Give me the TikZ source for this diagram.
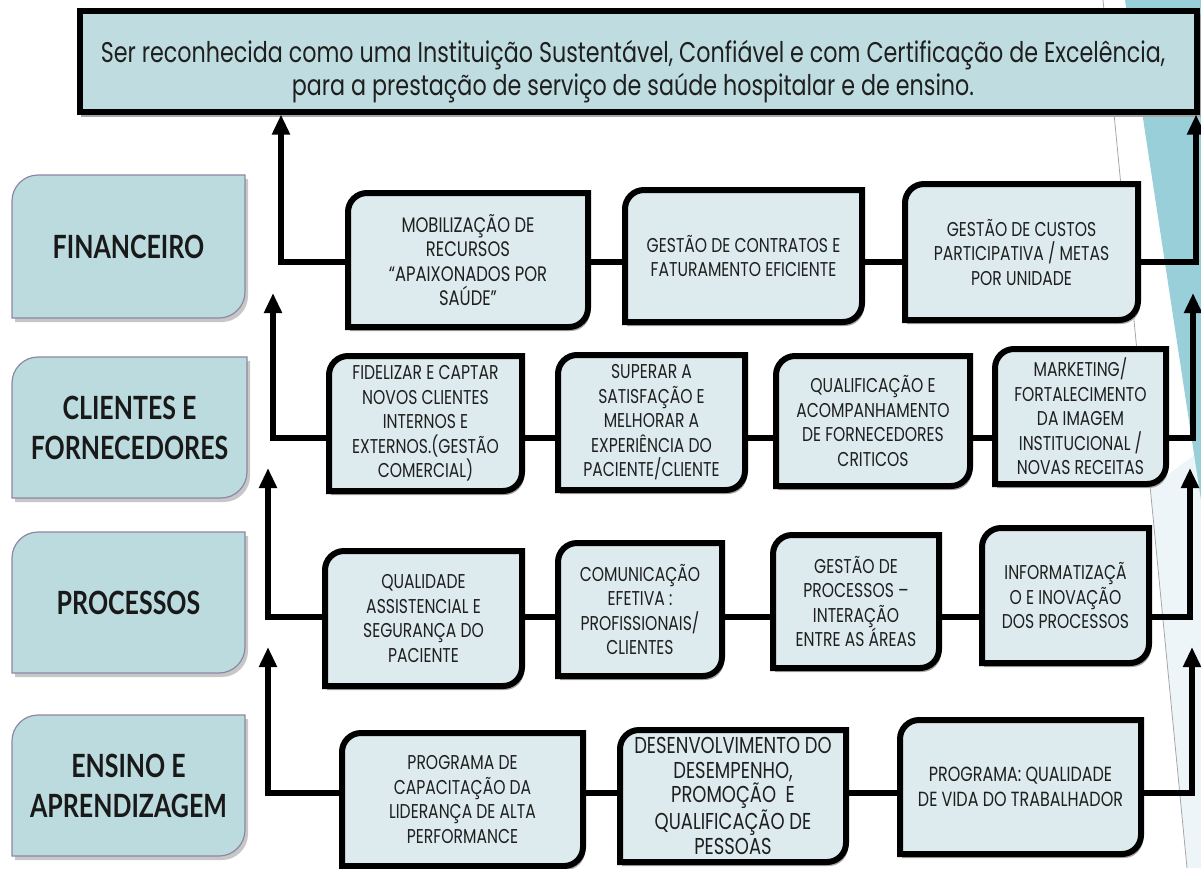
\documentclass[tikz,border=0pt]{standalone}
\usepackage{fontspec}
\usetikzlibrary{arrows.meta}
\newfontfamily\gfont[FakeStretch=0.78]{Poppins}
\newfontfamily\cfont[FakeStretch=0.78]{Lato}
\definecolor{topfill}{HTML}{BFDDE1}
\definecolor{catfill}{HTML}{BCDBDF}
\definecolor{catline}{HTML}{8C87A3}
\definecolor{objfill}{HTML}{DDEBEE}
\definecolor{decoteal}{HTML}{98CFD9}
\definecolor{decolight}{HTML}{EEF5F8}
\tikzset{
  objframe/.style={draw=black, line width=6pt, fill=objfill},
  objshadow/.style={fill=black!35},
  catframe/.style={draw=catline, line width=1.2pt, fill=catfill},
  catshadow/.style={fill=black!22},
  objtext/.style={font=\gfont\fontsize{20}{24.5}\selectfont, align=center, inner sep=0pt, text=black!88},
  cattext/.style={font=\cfont\bfseries\fontsize{32}{40}\selectfont, align=center, inner sep=0pt, text=black!90},
  toptext/.style={font=\gfont\fontsize{28.5}{33}\selectfont, align=center, inner sep=0pt, text=black!88},
  conn/.style={line width=6pt, draw=black},
  arr/.style={conn, -{Triangle[length=20pt,width=17pt]}},
}
\newcommand{\dframe}[6]{%
  \path[#1] (#2,#5) -- (#2,{#3+#6}) .. controls (#2,{#3+0.45*#6}) and ({#2+0.45*#6},#3) .. ({#2+#6},#3) -- (#4,#3) -- (#4,{#5-#6}) .. controls (#4,{#5-0.45*#6}) and ({#4-0.45*#6},#5) .. ({#4-#6},#5) -- cycle;}
\newcommand{\objbox}[7][]{%
  \dframe{objshadow,shift={(2,4)}}{#3}{#4}{#5}{#6}{19}%
  \dframe{objframe}{#3}{#4}{#5}{#6}{19}%
  \node[objtext,#1,minimum width={#5-#3},minimum height={#6-#4}] (#2) at ({(#3+#5)/2},{(#4+#6)/2}) {#7};}
\newcommand{\catbox}[6]{%
  \dframe{catshadow,shift={(3,4)}}{#2}{#3}{#4}{#5}{26}%
  \dframe{catframe}{#2}{#3}{#4}{#5}{26}%
  \node[cattext,minimum width={#4-#2},minimum height={#5-#3}] (#1) at ({(#2+#4)/2},{(#3+#5)/2}) {#6};}
\begin{document}
\begin{tikzpicture}[x=1pt,y=-1pt]
\useasboundingbox (0,0) rectangle (1201,868);
% slide decoration
\fill[decolight] (1150,488) -- (1201,450) -- (1201,868) -- (1187,868) -- cycle;
\fill[decoteal] (1125,0) -- (1201,0) -- (1201,500) -- cycle;
\draw[black!35, line width=0.8pt] (1103,0) -- (1187,868);
% top box
\fill[black!35] (81,14) rectangle (1201,117);
\node[draw=black, line width=6pt, fill=topfill, minimum width=1117pt, minimum height=101pt, inner sep=0pt] (top) at (638,61) {};
\node[toptext] (toptxt) at (633,72) {Ser reconhecida como uma Instituição Sustentável, Confiável e com Certificação de Excelência,\\para a prestação de serviço de saúde hospitalar e de ensino.};
% categories
\catbox{fin}{12}{175}{245}{318}{FINANCEIRO}
\catbox{cli}{12}{357}{247}{498}{CLIENTES E\\FORNECEDORES}
\catbox{pro}{12}{532}{245}{673}{PROCESSOS}
\catbox{ens}{12}{715}{245}{856}{ENSINO E\\APRENDIZAGEM}
% row A
\objbox[font=\gfont\fontsize{21}{24.5}\selectfont]{A1}{348}{193}{588}{327}{MOBILIZAÇÃO DE\\RECURSOS\\“APAIXONADOS POR\\SAÚDE”}
\objbox{A2}{625}{190}{862}{322}{GESTÃO DE CONTRATOS E\\FATURAMENTO EFICIENTE}
\objbox{A3}{905}{184}{1138}{320}{GESTÃO DE CUSTOS\\PARTICIPATIVA / METAS\\POR UNIDADE}
% row B
\objbox{B1}{329}{356}{522}{491}{FIDELIZAR E CAPTAR\\NOVOS CLIENTES\\INTERNOS E\\EXTERNOS.(GESTÃO\\COMERCIAL)}
\objbox{B2}{558}{355}{745}{490}{SUPERAR A\\SATISFAÇÃO E\\MELHORAR A\\EXPERIÊNCIA DO\\PACIENTE/CLIENTE}
\objbox{B3}{776}{356}{970}{486}{QUALIFICAÇÃO E\\ACOMPANHAMENTO\\DE FORNECEDORES\\CRITICOS}
\objbox{B4}{995}{349}{1166}{484}{MARKETING/\\FORTALECIMENTO\\DA IMAGEM\\INSTITUCIONAL /\\NOVAS RECEITAS}
% row C
\objbox{C1}{325}{551}{522}{686}{QUALIDADE\\ASSISTENCIAL E\\SEGURANÇA DO\\PACIENTE}
\objbox{C2}{558}{543}{722}{676}{COMUNICAÇÃO\\EFETIVA :\\PROFISSIONAIS/\\CLIENTES}
\objbox{C3}{773}{535}{939}{668}{GESTÃO DE\\PROCESSOS –\\INTERAÇÃO\\ENTRE AS ÁREAS}
\objbox{C4}{982}{528}{1149}{663}{INFORMATIZAÇÃ\\O E INOVAÇÃO\\DOS PROCESSOS}
% row D
\objbox{D1}{342}{733}{583}{866}{PROGRAMA DE\\CAPACITAÇÃO DA\\LIDERANÇA DE ALTA\\PERFORMANCE}
\objbox[font=\gfont\fontsize{23}{24.5}\selectfont]{D2}{620}{730}{846}{862}{DESENVOLVIMENTO DO\\DESEMPENHO,\\PROMOÇÃO\ \ E\\QUALIFICAÇÃO DE\\PESSOAS}
\objbox[font=\gfont\fontsize{20.5}{24.5}\selectfont]{D3}{900}{720}{1141}{854}{PROGRAMA: QUALIDADE\\DE VIDA DO TRABALHADOR}
% row levels and free ends
\coordinate (rA) at (0,262);
\coordinate (rB) at (0,438);
\coordinate (rC) at (0,617);
\coordinate (rD) at (0,793);
\coordinate (xL) at (281,0);
\coordinate (xR) at (1196,0);
\coordinate (tB) at (273,293);
\coordinate (tC) at (268,468);
\coordinate (tD) at (268,647);
\coordinate (uB) at (1193,293);
\coordinate (uC) at (1190,468);
\coordinate (uD) at (1192,647);
% connectors
\draw[conn] (A1.east |- rA) -- (A2.west |- rA);
\draw[conn] (A2.east |- rA) -- (A3.west |- rA);
\draw[conn] (B1.east |- rB) -- (B2.west |- rB);
\draw[conn] (B2.east |- rB) -- (B3.west |- rB);
\draw[conn] (B3.east |- rB) -- (B4.west |- rB);
\draw[conn] (C1.east |- rC) -- (C2.west |- rC);
\draw[conn] (C2.east |- rC) -- (C3.west |- rC);
\draw[conn] (C3.east |- rC) -- (C4.west |- rC);
\draw[conn] (D1.east |- rD) -- (D2.west |- rD);
\draw[conn] (D2.east |- rD) -- (D3.west |- rD);
\draw[arr] (A1.west |- rA) -| (top.south -| xL);
\draw[arr] (A3.east |- rA) -| (top.south -| xR);
\draw[arr] (B1.west |- rB) -| (tB);
\draw[arr] (B4.east |- rB) -| (uB);
\draw[arr] (C1.west |- rC) -| (tC);
\draw[arr] (C4.east |- rC) -| (uC);
\draw[arr] (D1.west |- rD) -| (tD);
\draw[arr] (D3.east |- rD) -| (uD);
\end{tikzpicture}
\end{document}
